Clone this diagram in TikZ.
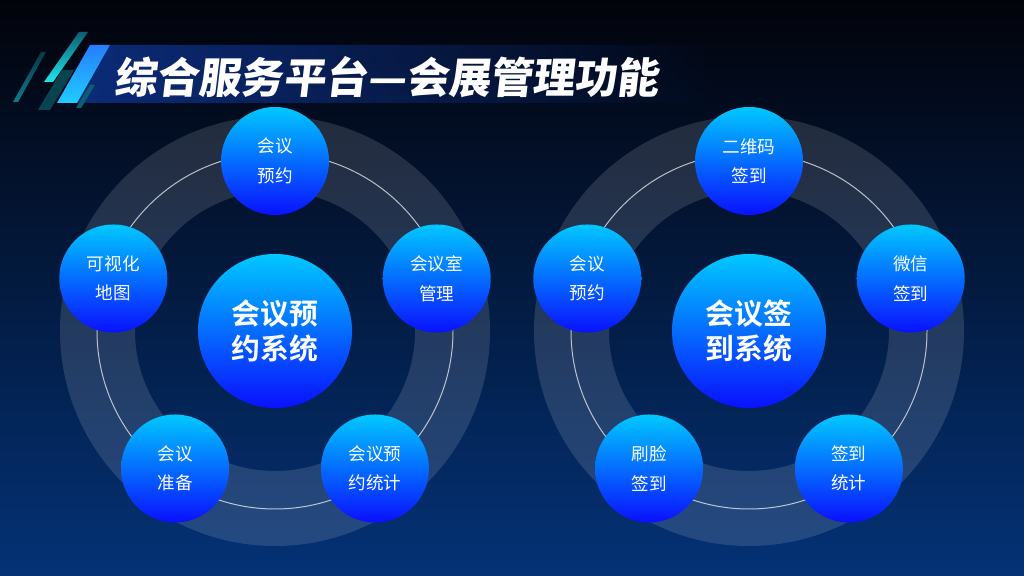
\documentclass[tikz,border=0pt]{standalone}
\usepackage{fontspec}
\usetikzlibrary{fadings}
\newfontfamily\cjk{Noto Sans CJK SC}[BoldFont={Noto Sans CJK SC Bold}]
\newfontfamily\cjkheavy{Noto Sans CJK SC Black}
\definecolor{bgtop}{RGB}{2,3,10}
\definecolor{bgmid}{RGB}{4,14,42}
\definecolor{bgbot}{RGB}{4,50,118}
\definecolor{ballTop}{RGB}{0,200,255}
\definecolor{ballBot}{RGB}{10,16,255}
\definecolor{bannerBlue}{RGB}{12,44,122}
\definecolor{edgeCyan}{RGB}{30,205,255}
\definecolor{edgeBlue}{RGB}{40,125,255}
\definecolor{stripeCyan}{RGB}{30,230,235}
\definecolor{stripeTeal}{RGB}{12,95,115}
\tikzset{
  sat/.style={circle,minimum size=2.7cm,inner sep=0pt,top color=ballTop,bottom color=ballBot,
    text=white,align=center,font=\cjk\fontsize{12.5}{21}\selectfont},
  hub/.style={sat,minimum size=3.85cm,font=\cjk\bfseries\fontsize{20.5}{25}\selectfont},
  band/.style={white,opacity=0.13,even odd rule},
  track/.style={white,opacity=0.7,line width=.7pt}
}

\begin{document}
\begin{tikzpicture}[x=0.025cm,y=0.025cm]
\useasboundingbox (0,0) rectangle (1024,576);
\shade[top color=bgtop,middle color=bgmid,bottom color=bgbot] (0,0) rectangle (1024,576);

% title banner and stripes
\fill[bannerBlue,path fading=east] (77,473)--(720,473)--(720,531)--(110,531)--cycle;
\shade[bottom color=edgeCyan,top color=edgeBlue] (57,473)--(77,473)--(110,531)--(90,531)--cycle;
\shade[bottom color=stripeCyan,top color=stripeTeal] (44,494)--(53,494)--(88,544)--(79,544)--cycle;
\shade[bottom color=stripeTeal!80!stripeCyan,top color=stripeTeal!60!black] (13,474)--(18,474)--(46,524)--(41,524)--cycle;
\fill[stripeTeal!70!black] (38,466)--(50,466)--(74,506)--(62,506)--cycle;
\fill[stripeTeal] (76,468)--(81,468)--(95,491)--(90,491)--cycle;
\begin{scope}[shift={(116,499)},xslant=0.12]
\node[anchor=west,text=white,transform shape,inner sep=0pt,font=\cjkheavy\fontsize{30}{31}\selectfont] (title) at (0,0) {综合服务平台—会展管理功能};
\end{scope}

% left: booking system
\fill[band] (275,245) circle[radius=215] (275,245) circle[radius=140];
\draw[track] (275,245) circle[radius=178];
\node[hub] (bookHub) at (275,245) {会议预\\约系统};
\node[sat] (bookTop) at (275,415) {会议\\预约};
\node[sat] (bookRight) at (436.7,297.5) {会议室\\管理};
\node[sat] (bookLowRight) at (374.9,107.5) {会议预\\约统计};
\node[sat] (bookLowLeft) at (175.1,107.5) {会议\\准备};
\node[sat] (bookLeft) at (113.3,297.5) {可视化\\地图};

% right: sign-in system
\fill[band] (749,245) circle[radius=215] (749,245) circle[radius=140];
\draw[track] (749,245) circle[radius=178];
\node[hub] (signHub) at (749,245) {会议签\\到系统};
\node[sat] (signTop) at (749,415) {二维码\\签到};
\node[sat] (signRight) at (910.7,297.5) {微信\\签到};
\node[sat] (signLowRight) at (848.9,107.5) {签到\\统计};
\node[sat] (signLowLeft) at (649.1,107.5) {刷脸\\签到};
\node[sat] (signLeft) at (587.3,297.5) {会议\\预约};
\end{tikzpicture}
\end{document}
